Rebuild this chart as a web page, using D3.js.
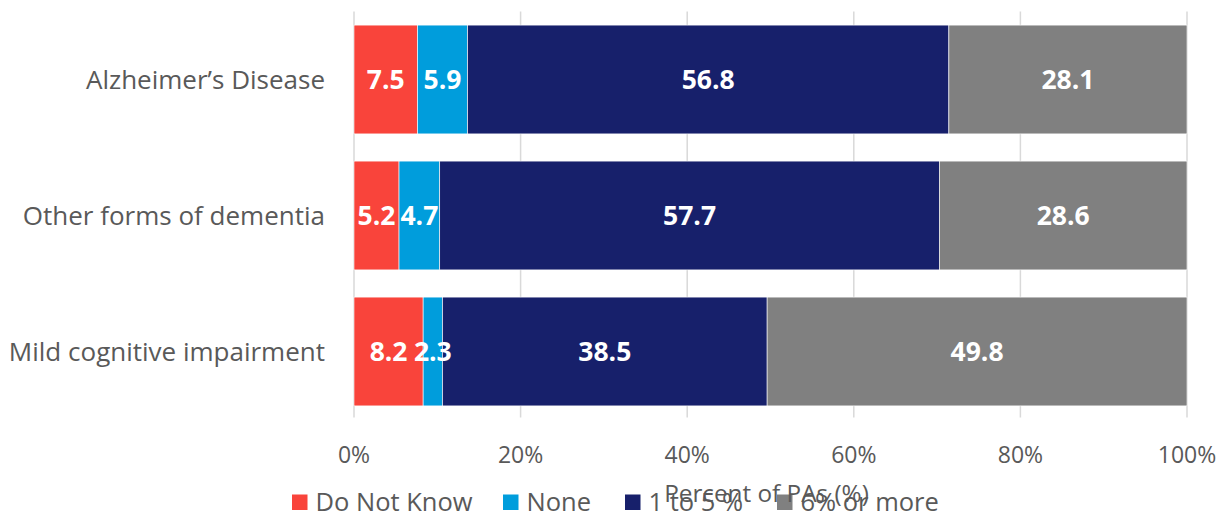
<!DOCTYPE html>
<html><head><meta charset="utf-8">
<script src="https://cdn.jsdelivr.net/npm/d3@7"></script>
<style>body{margin:0;background:#fff}svg{display:block}text{font-family:"Open Sans",sans-serif}</style>
</head><body>
<script>
const categories = ["Alzheimer’s Disease", "Other forms of dementia", "Mild cognitive impairment"];
const seriesNames = ["Do Not Know", "None", "1 to 5 %", "6% or more"];
const doNotKnow = [7.5, 5.2, 8.2];
const none = [5.9, 4.7, 2.3];
const oneToFive = [56.8, 57.7, 38.5];
const sixOrMore = [28.1, 28.6, 49.8];
const xTicks = [0, 0.2, 0.4, 0.6, 0.8, 1.0];
const colors = ["#F9443B", "#009DDC", "#17206B", "#808080"];
const axisTitle = "Percent of PAs (%)";

const W = 1228, H = 514;
const m = {left: 354, right: 41, top: 11.5, bottom: 94.5};
const svg = d3.select("body").append("svg").attr("width", W).attr("height", H);

const rows = categories.map((c, i) => {
  const o = {cat: c};
  o[seriesNames[0]] = doNotKnow[i];
  o[seriesNames[1]] = none[i];
  o[seriesNames[2]] = oneToFive[i];
  o[seriesNames[3]] = sixOrMore[i];
  return o;
});
const stack = d3.stack().keys(seriesNames).offset(d3.stackOffsetExpand);
const layers = stack(rows);

const x = d3.scaleLinear().domain([0, 1]).range([m.left, W - m.right]);
const y = d3.scaleBand().domain(categories).range([m.top, H - m.bottom]).paddingInner(0.2).paddingOuter(0.1);

// grid
svg.append("g").selectAll("line").data(xTicks).join("line")
  .attr("x1", d => x(d)).attr("x2", d => x(d))
  .attr("y1", m.top).attr("y2", H - m.bottom - 2)
  .attr("stroke", "#D9D9D9").attr("stroke-width", 1.5);

// x tick labels
svg.append("g").selectAll("text").data(xTicks).join("text")
  .attr("x", d => x(d)).attr("y", 463).attr("text-anchor", "middle")
  .attr("font-size", 23).attr("fill", "#595959")
  .text(d => d3.format(".0%")(d));

// bars
const g = svg.append("g");
layers.forEach((layer, li) => {
  g.append("g").selectAll("rect").data(layer).join("rect")
    .attr("x", d => x(d[0])).attr("width", d => x(d[1]) - x(d[0]))
    .attr("y", d => y(d.data.cat)).attr("height", y.bandwidth())
    .attr("fill", colors[li]).attr("stroke", "#fff").attr("stroke-width", 0.6);
});
layers.forEach((layer, li) => {
  g.append("g").selectAll("text").data(layer).join("text")
    .attr("x", d => (x(d[0]) + x(d[1])) / 2)
    .attr("y", d => y(d.data.cat) + y.bandwidth() / 2)
    .attr("dy", "0.36em").attr("text-anchor", "middle")
    .attr("font-size", 26.5).attr("font-weight", "bold").attr("fill", "#fff")
    .text(d => d3.format(".1f")(d.data[layer.key]));
});

// category labels
svg.append("g").selectAll("text").data(categories).join("text")
  .attr("x", 325).attr("y", d => y(d) + y.bandwidth() / 2).attr("dy", "0.36em")
  .attr("text-anchor", "end").attr("font-size", 26).attr("fill", "#595959")
  .text(d => d);

// legend
const legX = [292, 503, 625, 777];
const leg = svg.append("g").selectAll("g").data(seriesNames).join("g")
  .attr("transform", (d, i) => `translate(${legX[i]},0)`);
leg.append("rect").attr("x", 0).attr("y", 494.5).attr("width", 15.5).attr("height", 15.5)
  .attr("fill", (d, i) => colors[i]);
leg.append("text").attr("x", 23.5).attr("y", 510.5).attr("font-size", 25.5).attr("fill", "#595959")
  .text(d => d);

// axis title
svg.append("text").attr("x", 766.5).attr("y", 501.5).attr("text-anchor", "middle")
  .attr("font-size", 24.3).attr("fill", "#595959").text(axisTitle);
</script>
</body></html>
